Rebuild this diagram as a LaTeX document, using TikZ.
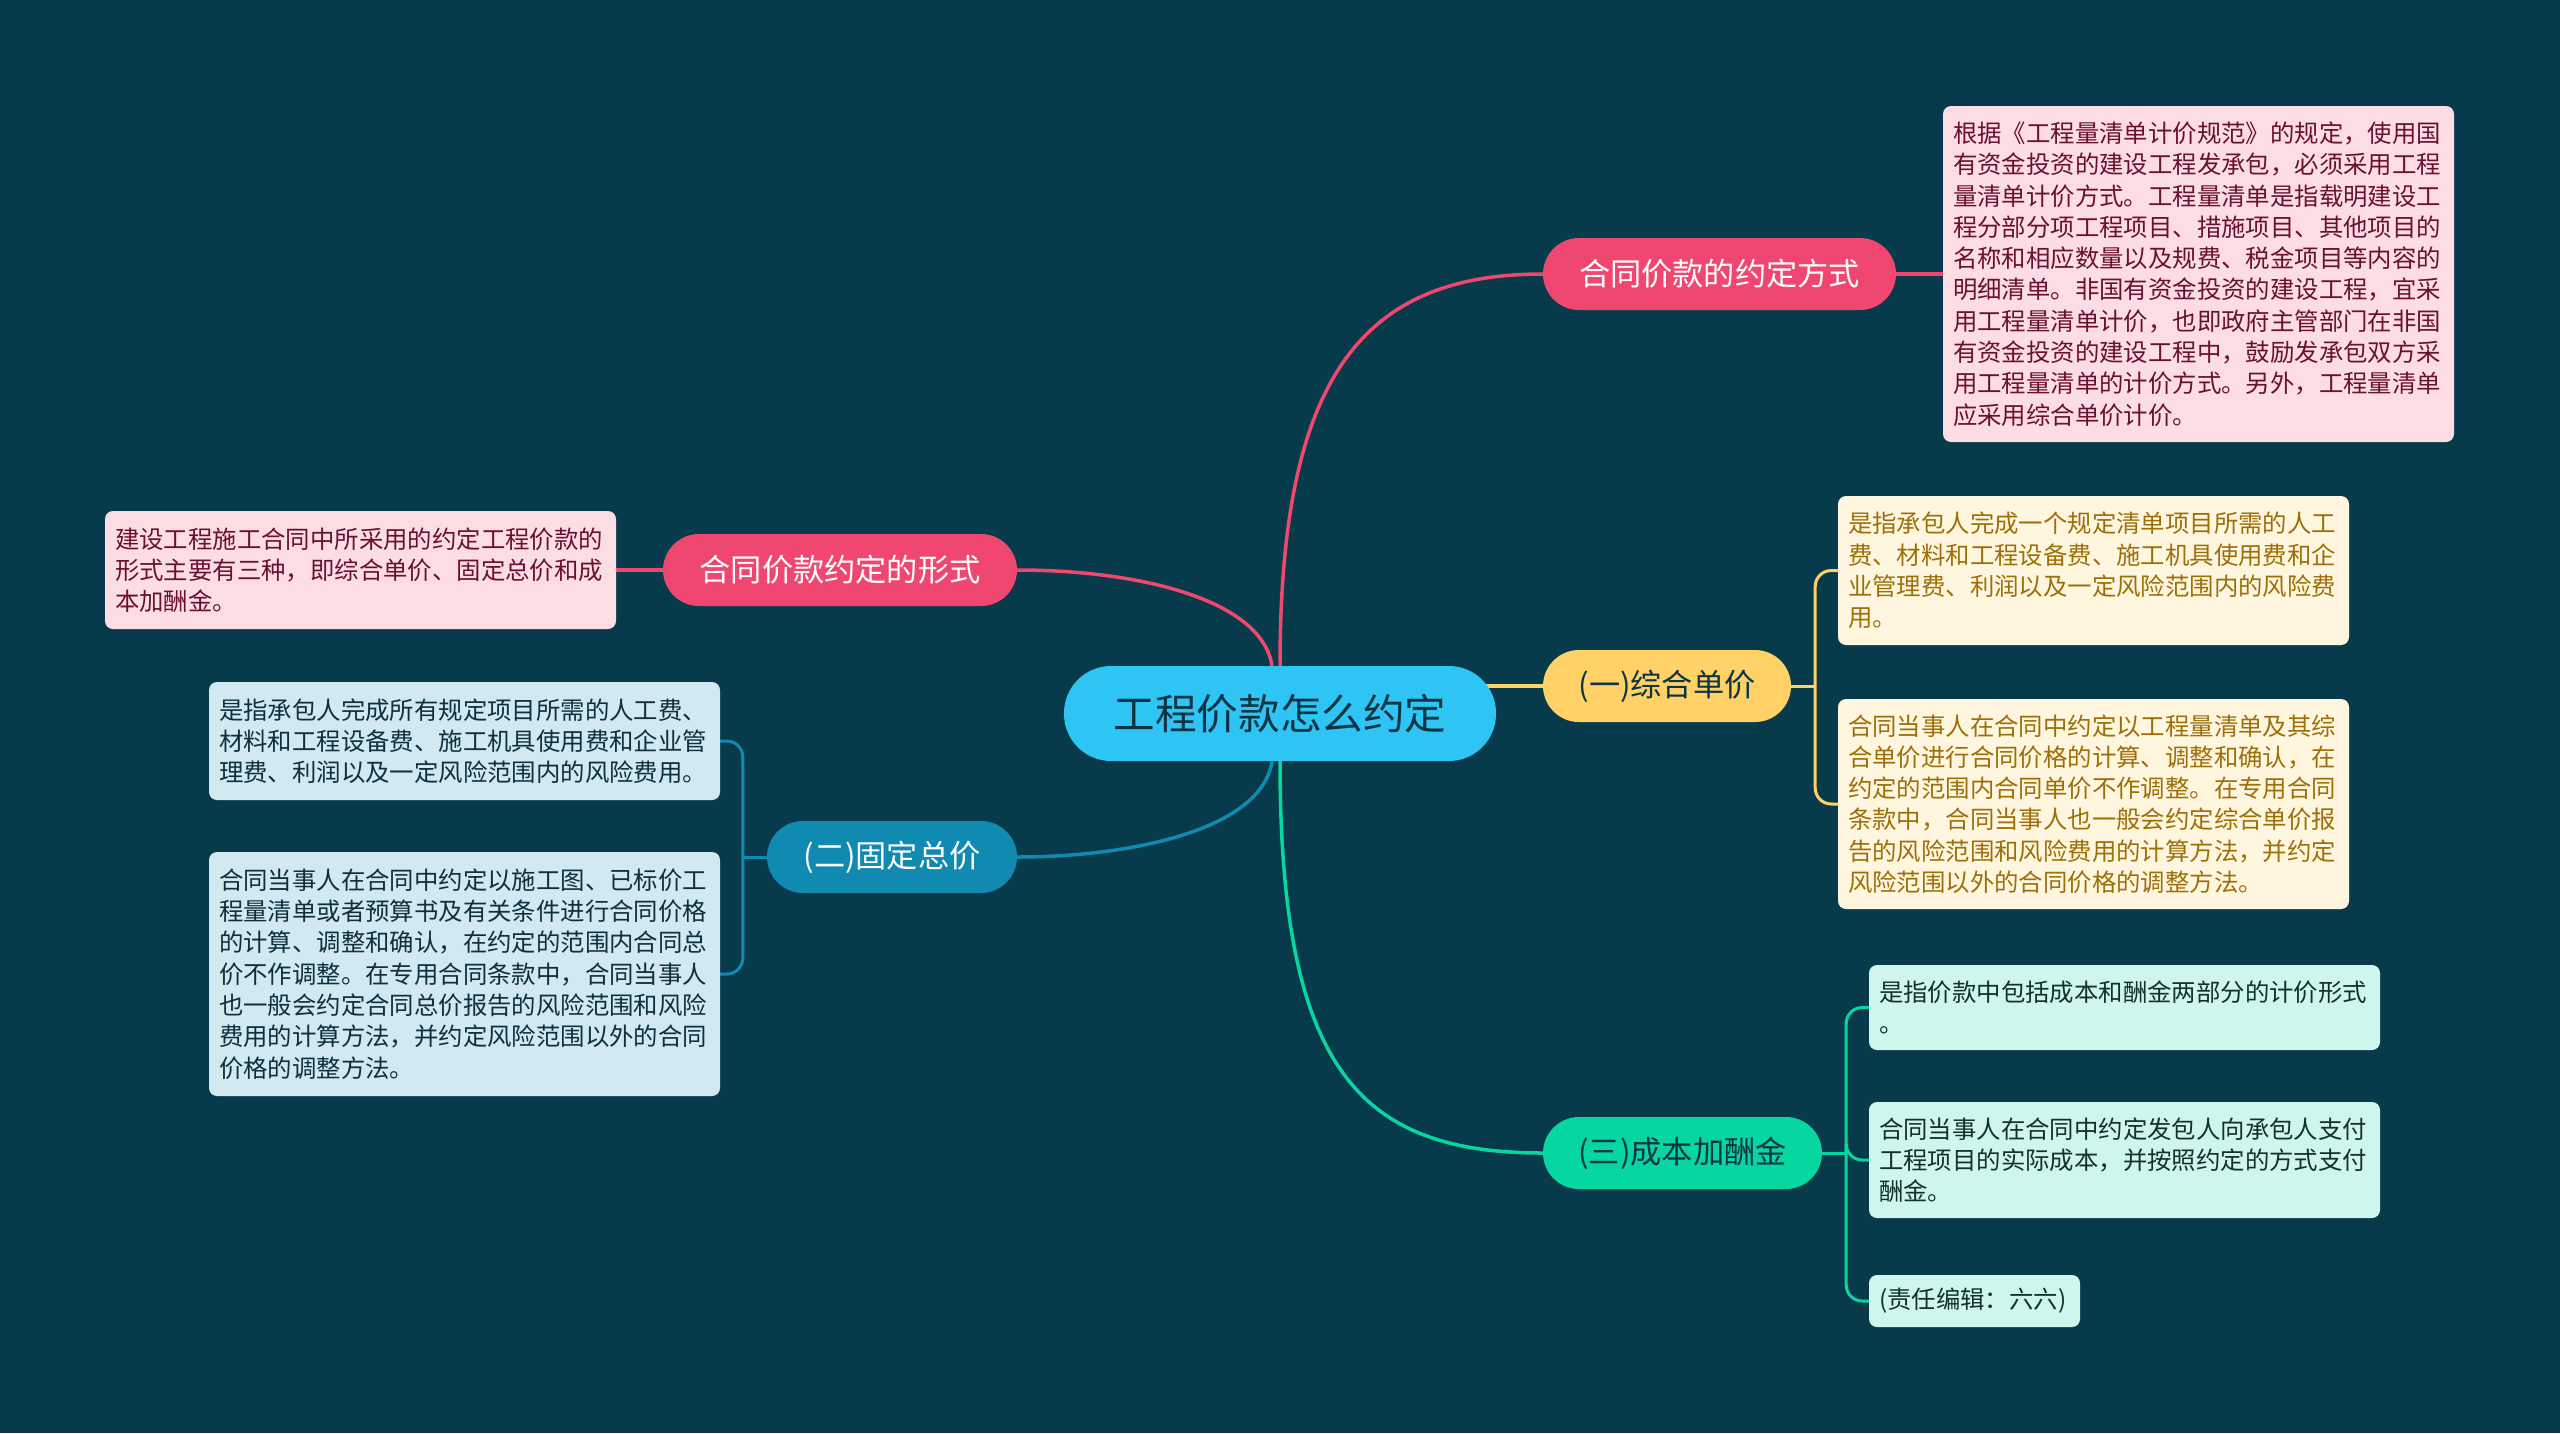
\documentclass[tikz,border=0pt]{standalone}
\usepackage{fontspec}
\setmainfont{Noto Sans CJK SC}
\definecolor{bgc}{HTML}{073B4C}
\definecolor{rootc}{HTML}{2EC4F3}
\definecolor{pinkc}{HTML}{EF476F}
\definecolor{yelc}{HTML}{FFD166}
\definecolor{bluec}{HTML}{118AB2}
\definecolor{greenc}{HTML}{06D6A0}
\definecolor{pinkleaf}{HTML}{FCDDE3}
\definecolor{pinktext}{HTML}{6B1030}
\definecolor{yelleaf}{HTML}{FFF6DF}
\definecolor{yeltext}{HTML}{9E6F08}
\definecolor{blueleaf}{HTML}{D2E9F1}
\definecolor{bluetext}{HTML}{0E2F3D}
\definecolor{greenleaf}{HTML}{CFF6EC}
\definecolor{greentext}{HTML}{12302E}
\definecolor{darktext}{HTML}{0B3445}
\pgfdeclarelayer{bgl}
\pgfdeclarelayer{edges}
\pgfsetlayers{bgl,edges,main}
\begin{document}
\begin{tikzpicture}[x=1pt,y=-1pt,
  leaf/.style={rounded corners=8pt, inner xsep=10pt, inner ysep=0pt, text width=491pt,
    align=left, font=\fontsize{24.4}{31.3}\selectfont, minimum width=511pt, anchor=center},
  pill/.style={rounded corners=36pt, minimum height=72pt, inner sep=0pt,
    font=\fontsize{31.2}{36}\selectfont, anchor=center},
  conn/.style={line width=3.5pt},
  bracket/.style={line width=3pt, rounded corners=16pt}]
\begin{pgfonlayer}{bgl}
\fill[bgc] (0,0) rectangle (2560,1433);
\end{pgfonlayer}
\useasboundingbox (0,0) rectangle (2560,1433);

% root
\node[rounded corners=47pt, minimum width=432pt, minimum height=95pt, inner sep=0pt,
  fill=rootc, text=darktext, font=\fontsize{41.6}{48}\selectfont] (root) at (1280,713.5) {工程价款怎么约定};

% branches
\node[pill, fill=pinkc, text=white, minimum width=353pt] (p1) at (1719.5,274) {合同价款的约定方式};
\node[pill, fill=pinkc, text=white, minimum width=354pt] (p2) at (840,570) {合同价款约定的形式};
\node[pill, fill=yelc, text=darktext, minimum width=248pt] (yel) at (1667,686) {(一)综合单价};
\node[pill, fill=bluec, text=white, minimum width=250pt] (blu) at (892,857) {(二)固定总价};
\node[pill, fill=greenc, text=darktext, minimum width=279pt] (grn) at (1682.5,1153) {(三)成本加酬金};

% leaves
\node[leaf, fill=pinkleaf, text=pinktext, minimum height=336pt] (pl1) at (2198.5,274) {根据《工程量清单计价规范》的规定，使用国\\有资金投资的建设工程发承包，必须采用工程\\量清单计价方式。工程量清单是指载明建设工\\程分部分项工程项目、措施项目、其他项目的\\名称和相应数量以及规费、税金项目等内容的\\明细清单。非国有资金投资的建设工程，宜采\\用工程量清单计价，也即政府主管部门在非国\\有资金投资的建设工程中，鼓励发承包双方采\\用工程量清单的计价方式。另外，工程量清单\\应采用综合单价计价。};
\node[leaf, fill=pinkleaf, text=pinktext, minimum height=118pt] (pl2) at (360.5,570) {建设工程施工合同中所采用的约定工程价款的\\形式主要有三种，即综合单价、固定总价和成\\本加酬金。};
\node[leaf, fill=yelleaf, text=yeltext, minimum height=149pt] (y1) at (2093.5,570.5) {是指承包人完成一个规定清单项目所需的人工\\费、材料和工程设备费、施工机具使用费和企\\业管理费、利润以及一定风险范围内的风险费\\用。};
\node[leaf, fill=yelleaf, text=yeltext, minimum height=210pt] (y2) at (2093.5,804) {合同当事人在合同中约定以工程量清单及其综\\合单价进行合同价格的计算、调整和确认，在\\约定的范围内合同单价不作调整。在专用合同\\条款中，合同当事人也一般会约定综合单价报\\告的风险范围和风险费用的计算方法，并约定\\风险范围以外的合同价格的调整方法。};
\node[leaf, fill=blueleaf, text=bluetext, minimum height=118pt] (b1) at (464.5,741) {是指承包人完成所有规定项目所需的人工费、\\材料和工程设备费、施工机具使用费和企业管\\理费、利润以及一定风险范围内的风险费用。};
\node[leaf, fill=blueleaf, text=bluetext, minimum height=244pt] (b2) at (464.5,974) {合同当事人在合同中约定以施工图、已标价工\\程量清单或者预算书及有关条件进行合同价格\\的计算、调整和确认，在约定的范围内合同总\\价不作调整。在专用合同条款中，合同当事人\\也一般会约定合同总价报告的风险范围和风险\\费用的计算方法，并约定风险范围以外的合同\\价格的调整方法。};
\node[leaf, fill=greenleaf, text=greentext, minimum height=85pt] (g1) at (2124.5,1007.5) {是指价款中包括成本和酬金两部分的计价形式\\。};
\node[leaf, fill=greenleaf, text=greentext, minimum height=116pt] (g2) at (2124.5,1160) {合同当事人在合同中约定发包人向承包人支付\\工程项目的实际成本，并按照约定的方式支付\\酬金。};
\node[leaf, fill=greenleaf, text=greentext, minimum height=52pt, text width=191pt, minimum width=211pt] (g3) at (1974.5,1301) {(责任编辑：六六)};

\coordinate (yj) at ([xshift=24pt]yel.east);
\coordinate (bj) at ([xshift=-24pt]blu.west);
\coordinate (gj) at ([xshift=24pt]grn.east);

\begin{pgfonlayer}{edges}
\draw[conn, pinkc] (root.north) .. controls (1280,380) and (1360,274) .. (p1.west);
\draw[conn, pinkc] ([xshift=-8pt]root.north) .. controls (1262,600) and (1140,570) .. (p2.east);
\draw[conn, yelc] (root.center |- yel.west) -- (yel.west);
\draw[conn, bluec] ([xshift=-8pt]root.south) .. controls (1262,830) and (1130,857) .. (blu.east);
\draw[conn, greenc] (root.south) .. controls (1280,1070) and (1360,1153) .. (grn.west);

\draw[conn, pinkc] (p1.east) -- (pl1.west);
\draw[conn, pinkc] (p2.west) -- (pl2.east);

\draw[bracket, yelc] (yel.east) -- (yj);
\draw[bracket, yelc] (yj) |- (y1.west);
\draw[bracket, yelc] (yj) |- (y2.west);
\draw[bracket, bluec] (blu.west) -- (bj);
\draw[bracket, bluec] (bj) |- (b1.east);
\draw[bracket, bluec] (bj) |- (b2.east);
\draw[bracket, greenc] (grn.east) -- (gj);
\draw[bracket, greenc] (gj) |- (g1.west);
\draw[bracket, greenc] (gj) |- (g2.west);
\draw[bracket, greenc] (gj) |- (g3.west);
\end{pgfonlayer}
\end{tikzpicture}
\end{document}
